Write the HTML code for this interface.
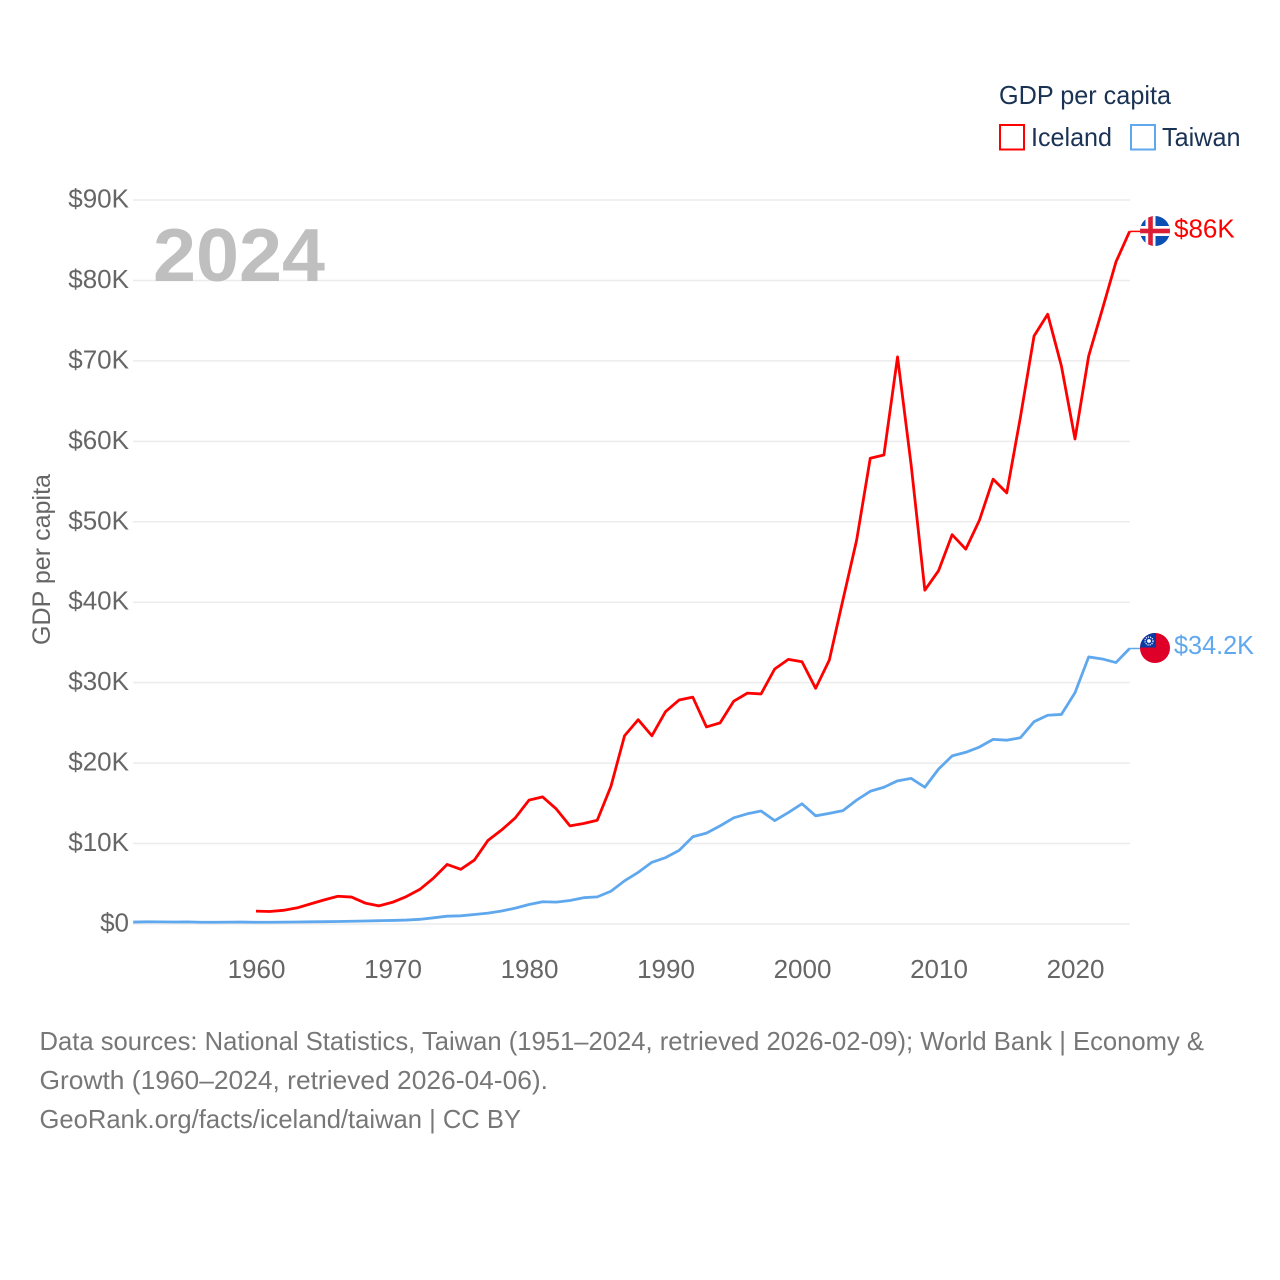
<!DOCTYPE html>
<html lang="en">
<head>
<meta charset="utf-8">
<title>GDP per capita: Iceland and Taiwan</title>
<style>
html,body{margin:0;padding:0;background:#fff;}
svg{display:block;font-family:"Liberation Sans",sans-serif;}
</style>
</head>
<body>
<svg id="chart" width="1280" height="1280" viewBox="0 0 1280 1280" xmlns="http://www.w3.org/2000/svg">
  <defs>
    <clipPath id="clip-iceland"><circle cx="1155" cy="231" r="15"/></clipPath>
    <clipPath id="clip-taiwan"><circle cx="1155" cy="648" r="15"/></clipPath>
  </defs>
  <rect x="0" y="0" width="1280" height="1280" fill="#fff"/>
  <g id="grid"></g>
  <g id="y-ticks"></g>
  <g id="x-ticks"></g>

  <text x="153" y="281" font-size="75" font-weight="700" fill="#bfbfbf" textLength="172" lengthAdjust="spacingAndGlyphs">2024</text>
  <text transform="translate(50,645) rotate(-90)" font-size="25" fill="#666" textLength="171" lengthAdjust="spacingAndGlyphs">GDP per capita</text>

  <g id="series"></g>

  <g clip-path="url(#clip-iceland)">
    <rect x="1140" y="216" width="30" height="30" fill="#0b4fb3"/>
    <rect x="1145.5" y="216" width="10" height="30" fill="#fff"/>
    <rect x="1140" y="226" width="30" height="10" fill="#fff"/>
    <rect x="1148.2" y="216" width="4.6" height="30" fill="#dc1e35"/>
    <rect x="1140" y="228.7" width="30" height="4.6" fill="#dc1e35"/>
  </g>
  <g clip-path="url(#clip-taiwan)">
    <rect x="1140" y="633" width="30" height="30" fill="#de0029"/>
    <rect x="1140" y="633" width="16" height="14.5" fill="#0a3aa5"/>
    <circle cx="1149" cy="641" r="4" fill="none" stroke="#fff" stroke-width="1.2" stroke-dasharray="1.2 1"/>
    <circle cx="1149" cy="641" r="1.9" fill="#fff"/>
  </g>

  <g>
    <text x="999" y="104" font-size="26" fill="#1a3354" textLength="172" lengthAdjust="spacingAndGlyphs">GDP per capita</text>
    <g>
      <rect x="1000" y="125" width="24" height="24.5" fill="#fff" stroke="#ff0000" stroke-width="2"/>
      <text x="1031" y="146" font-size="26" fill="#1a3354" textLength="81" lengthAdjust="spacingAndGlyphs">Iceland</text>
    </g>
    <g>
      <rect x="1131" y="125" width="24" height="24.5" fill="#fff" stroke="#60a8ee" stroke-width="2"/>
      <text x="1162" y="146" font-size="26" fill="#1a3354" textLength="78.5" lengthAdjust="spacingAndGlyphs">Taiwan</text>
    </g>
  </g>

  <g font-size="26" fill="#777">
    <text x="39.5" y="1050" textLength="1164.5" lengthAdjust="spacingAndGlyphs">Data sources: National Statistics, Taiwan (1951–2024, retrieved 2026-02-09); World Bank | Economy &amp;</text>
    <text x="39.5" y="1089" textLength="508.5" lengthAdjust="spacingAndGlyphs">Growth (1960–2024, retrieved 2026-04-06).</text>
    <text x="39.5" y="1128" textLength="481.5" lengthAdjust="spacingAndGlyphs">GeoRank.org/facts/iceland/taiwan | CC BY</text>
  </g>
</svg>

<script>
var yTickValues = [0, 10, 20, 30, 40, 50, 60, 70, 80, 90];
var yTickLabels = ["$0", "$10K", "$20K", "$30K", "$40K", "$50K", "$60K", "$70K", "$80K", "$90K"];
var xTickYears = [1960, 1970, 1980, 1990, 2000, 2010, 2020];
var xTickLabels = ["1960", "1970", "1980", "1990", "2000", "2010", "2020"];

var icelandStartYear = 1960;
var icelandValues = [1.6, 1.55, 1.7, 2.0, 2.5, 3.0, 3.45, 3.35, 2.6, 2.25,
  2.7, 3.4, 4.3, 5.7, 7.4, 6.8, 7.95, 10.4, 11.7, 13.2,
  15.4, 15.8, 14.3, 12.2, 12.5, 12.9, 17.1, 23.4, 25.4, 23.4,
  26.4, 27.85, 28.2, 24.5, 25.0, 27.7, 28.7, 28.6, 31.7, 32.9,
  32.6, 29.3, 32.8, 40.3, 47.7, 57.9, 58.3, 70.5, 57.0, 41.5,
  43.9, 48.4, 46.6, 50.2, 55.3, 53.6, 63.0, 73.1, 75.8, 69.4,
  60.3, 70.6, 76.4, 82.3, 86.1];

var taiwanStartYear = 1951;
var taiwanValues = [0.24, 0.27, 0.26, 0.25, 0.26, 0.22, 0.22, 0.23, 0.24,
  0.22, 0.22, 0.23, 0.25, 0.27, 0.29, 0.31, 0.34, 0.37, 0.41,
  0.44, 0.49, 0.58, 0.77, 0.97, 1.02, 1.18, 1.35, 1.62, 1.97,
  2.42, 2.77, 2.72, 2.92, 3.27, 3.37, 4.07, 5.37, 6.42, 7.67,
  8.25, 9.15, 10.85, 11.3, 12.2, 13.2, 13.7, 14.05, 12.85, 13.85,
  14.95, 13.45, 13.75, 14.1, 15.4, 16.5, 17.0, 17.8, 18.1, 17.0,
  19.25, 20.9, 21.35, 22.0, 22.95, 22.85, 23.15, 25.15, 25.95, 26.05,
  28.75, 33.2, 32.95, 32.5, 34.25];

var icelandEndLabel = "$86K";
var taiwanEndLabel = "$34.2K";

var NS = "http://www.w3.org/2000/svg";
function xScale(year) { return 256 + (year - 1960) * 13.65; }
function yScale(value) { return 924 - value * 8.044; }

function make(tag, attrs, parent) {
  var el = document.createElementNS(NS, tag);
  for (var k in attrs) { el.setAttribute(k, attrs[k]); }
  parent.appendChild(el);
  return el;
}
function seriesPoints(values, startYear) {
  return values.map(function (v, i) {
    return xScale(startYear + i).toFixed(2) + "," + yScale(v).toFixed(2);
  }).join(" ");
}

var svg = document.getElementById("chart");
var gridGroup = document.getElementById("grid");
var yGroup = document.getElementById("y-ticks");
var xGroup = document.getElementById("x-ticks");
var seriesGroup = document.getElementById("series");

yTickValues.forEach(function (v, i) {
  var line = make("line", {x1: 133, x2: 1130, y1: yScale(v), y2: yScale(v), stroke: "#ececec", "stroke-width": 1.5}, gridGroup);
  
  
  var label = make("text", {x: 129, y: yScale(v) + 7.5, "text-anchor": "end", "font-size": 26, fill: "#666"}, yGroup);
  
  
  label.textContent = yTickLabels[i];
});

xTickYears.forEach(function (year, i) {
  var label = make("text", {x: xScale(year) + 0.5, y: 978, "text-anchor": "middle", "font-size": 26, fill: "#666"}, xGroup);
  
  
  label.textContent = xTickLabels[i];
});

var taiwanLine = make("polyline", {points: seriesPoints(taiwanValues, taiwanStartYear), fill: "none", stroke: "#60a8ee", "stroke-width": 2.8, "stroke-linejoin": "round"}, seriesGroup);



var icelandLine = make("polyline", {points: seriesPoints(icelandValues, icelandStartYear), fill: "none", stroke: "#ff0000", "stroke-width": 2.8, "stroke-linejoin": "round"}, seriesGroup);



var icelandY = yScale(icelandValues[icelandValues.length - 1]);
var taiwanY = yScale(taiwanValues[taiwanValues.length - 1]);

var icelandConnector = make("line", {x1: xScale(2024), x2: 1141, y1: icelandY, y2: icelandY, stroke: "#ff0000", "stroke-width": 1.5}, seriesGroup);



var taiwanConnector = make("line", {x1: xScale(2024), x2: 1141, y1: taiwanY, y2: taiwanY, stroke: "#60a8ee", "stroke-width": 1.5}, seriesGroup);



var icelandValueLabel = make("text", {x: 1174, y: icelandY + 6, "font-size": 26, fill: "#ff0000"}, svg);


icelandValueLabel.textContent = icelandEndLabel;

var taiwanValueLabel = make("text", {x: 1174, y: taiwanY + 5.5, "font-size": 26, fill: "#60a8ee", textLength: 80, lengthAdjust: "spacingAndGlyphs"}, svg);


taiwanValueLabel.textContent = taiwanEndLabel;
</script>
</body>
</html>
